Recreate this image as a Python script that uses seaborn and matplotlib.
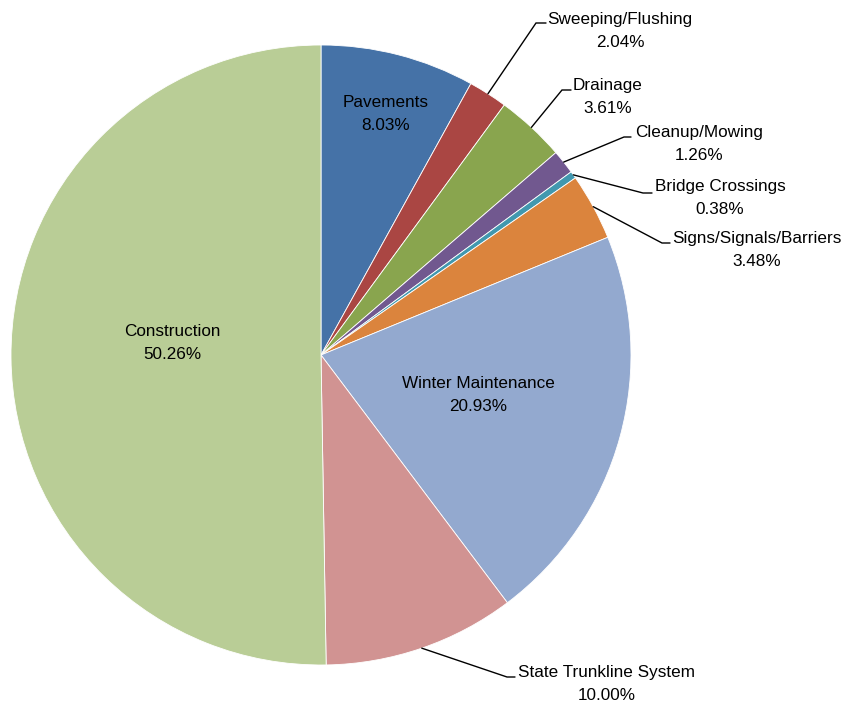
import numpy as np
import matplotlib
matplotlib.use("Agg")
import matplotlib.pyplot as plt
import seaborn as sns

# Spending shares by program area (percent of total)
categories = ["Pavements", "Sweeping/Flushing", "Drainage", "Cleanup/Mowing",
              "Bridge Crossings", "Signs/Signals/Barriers", "Winter Maintenance",
              "State Trunkline System", "Construction"]
shares = [8.03, 2.04, 3.61, 1.26, 0.38, 3.48, 20.93, 10.00, 50.26]
colors = ["#4572A7", "#AA4643", "#89A54E", "#71588F", "#4198AF",
          "#DB843D", "#93A9CF", "#D19392", "#B9CD96"]

sns.set_theme(style="white")
plt.rcParams["font.family"] = ["Liberation Sans", "DejaVu Sans"]

W, H = 847, 708
fig = plt.figure(figsize=(W / 100, H / 100), dpi=100)
ax = fig.add_axes([0, 0, 1, 1])

def py(y):
    """Convert a top-down pixel row to the axes' bottom-up coordinate."""
    return H - y

cx, cy, R = 321, py(355), 310
wedges, _ = ax.pie(shares, colors=colors, startangle=90, counterclock=False,
                   center=(cx, cy), radius=R,
                   wedgeprops=dict(edgecolor="white", linewidth=0.6))
ax.set_xlim(0, W)
ax.set_ylim(0, H)
ax.set_aspect("equal")
ax.axis("off")

# Label layout: (text centre x, text centre y) and, for outside labels,
# the leader elbow and the end of its short horizontal stub.
inside = {
    "Pavements": (386, 114),
    "Winter Maintenance": (478, 395),
    "Construction": (172, 343),
}
outside = {
    "Sweeping/Flushing": ((620, 31), (536, 23), (546, 23)),
    "Drainage": ((608, 97), (562, 90), (571, 90)),
    "Cleanup/Mowing": ((699, 144), (624, 137), (631, 137)),
    "Bridge Crossings": ((720, 198), (643, 193), (652, 193)),
    "Signs/Signals/Barriers": ((757, 250), (662, 243), (670, 243)),
    "State Trunkline System": ((607, 684), (507, 677), (515, 677)),
}

fs = 12.3
ls = 1.68
cum = np.cumsum([0] + shares[:-1])
for name, val, start in zip(categories, shares, cum):
    label = f"{name}\n{val:.2f}%"
    if name in inside:
        x, y = inside[name]
        ax.text(x, py(y), label, ha="center", va="center", fontsize=fs,
                color="black", linespacing=ls, multialignment="center")
        continue
    (tx, ty), (ex, ey), (sx, sy) = outside[name]
    mid = np.deg2rad(90 - (start + val / 2) * 3.6)
    px_, py_ = cx + R * np.cos(mid), cy + R * np.sin(mid)
    ax.plot([px_, ex, sx], [py_, py(ey), py(sy)], color="black", lw=1.0,
            solid_joinstyle="miter")
    ax.text(tx, py(ty), label, ha="center", va="center", fontsize=fs,
            color="black", linespacing=ls, multialignment="center")

fig.savefig("out.png", dpi=100, facecolor="white")
